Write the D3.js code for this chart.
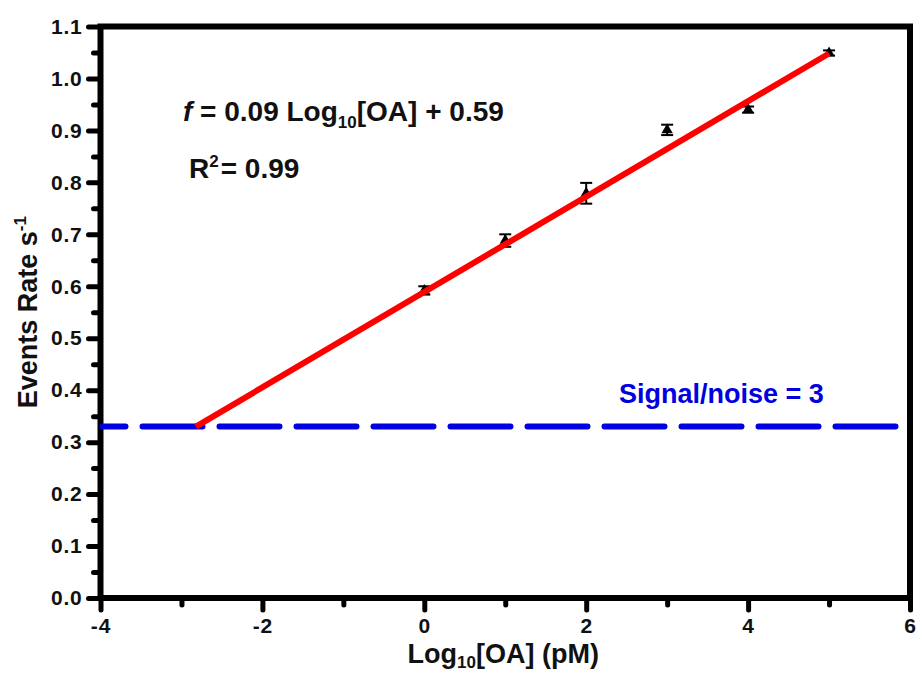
<!DOCTYPE html>
<html>
<head>
<meta charset="utf-8">
<script src="https://cdn.jsdelivr.net/npm/d3@7"></script>
<style>
  html, body { margin: 0; padding: 0; background: #fff; }
  svg { display: block; font-family: "Liberation Sans", Arial, sans-serif; font-weight: bold; }
</style>
</head>
<body>
<svg id="chart" width="916" height="675"></svg>
<script>
// Event rate versus log concentration of OA
const logConc   = [0, 1, 2, 3, 4, 5];
const eventRate = [0.592, 0.688, 0.779, 0.901, 0.940, 1.049];
const rateError = [0.008, 0.012, 0.020, 0.010, 0.006, 0.005];

// Linear fit parameters
const fitSlope     = [0.0918];
const fitIntercept = [0.589];
const rSquared     = [0.99];

// Detection threshold (signal/noise = 3)
const thresholdRate = [0.33];

// Axis ticks
const xTicks      = [-4, -2, 0, 2, 4, 6];
const xMinorTicks = [-3, -1, 1, 3, 5];
const yTicks      = [0, 0.1, 0.2, 0.3, 0.4, 0.5, 0.6, 0.7, 0.8, 0.9, 1.0, 1.1];
const yMinorTicks = [0.05, 0.15, 0.25, 0.35, 0.45, 0.55, 0.65, 0.75, 0.85, 0.95, 1.05];

const svg = d3.select("#chart");
const plotLeft = 100.5, plotRight = 910, plotTop = 26.5, plotBottom = 598;

const x = d3.scaleLinear().domain([-4, 6]).range([plotLeft, plotRight]);
const y = d3.scaleLinear().domain([0, 1.1]).range([plotBottom, plotTop]);

const fit = v => fitSlope[0] * v + fitIntercept[0];
const fitStart = (thresholdRate[0] - fitIntercept[0]) / fitSlope[0];
const fitEnd = d3.max(logConc);

// Axes: major ticks with labels, minor ticks without
function styleAxis(g) {
  g.select(".domain").remove();
  g.selectAll(".tick line").attr("stroke", "#000").attr("stroke-width", 5).attr("stroke-linecap", "round");
  g.selectAll(".tick text").attr("fill", "#111").attr("font-size", 21).attr("font-weight", "bold")
    .attr("font-family", "'Liberation Sans', Arial, sans-serif").attr("letter-spacing", 0.8);
}

svg.append("g").attr("transform", `translate(0,${plotBottom})`)
  .call(d3.axisBottom(x).tickValues(xTicks).tickSize(12).tickPadding(8).tickFormat(d => String(d)))
  .call(styleAxis);
svg.append("g").attr("transform", `translate(0,${plotBottom})`)
  .call(d3.axisBottom(x).tickValues(xMinorTicks).tickSize(7).tickFormat(""))
  .call(styleAxis);
svg.append("g").attr("transform", `translate(${plotLeft},0)`)
  .call(d3.axisLeft(y).tickValues(yTicks).tickSize(12).tickPadding(6).tickFormat(d3.format(".1f")))
  .call(styleAxis);
svg.append("g").attr("transform", `translate(${plotLeft},0)`)
  .call(d3.axisLeft(y).tickValues(yMinorTicks).tickSize(7).tickFormat(""))
  .call(styleAxis);

// Plot frame
svg.append("rect")
  .attr("x", plotLeft).attr("y", plotTop)
  .attr("width", plotRight - plotLeft).attr("height", plotBottom - plotTop)
  .attr("fill", "none").attr("stroke", "#000").attr("stroke-width", 6);

// Threshold line
svg.append("line")
  .attr("x1", x(-4) + 2).attr("x2", x(6) - 2)
  .attr("y1", y(thresholdRate[0])).attr("y2", y(thresholdRate[0]))
  .attr("stroke", "#0000e0").attr("stroke-width", 6)
  .attr("stroke-dasharray", "60,17").attr("stroke-dashoffset", 37)
  .attr("stroke-linecap", "round");

// Error bars
const eb = svg.append("g").attr("stroke", "#000").attr("stroke-width", 2);
logConc.forEach((c, i) => {
  const cx = x(c), hi = y(eventRate[i] + rateError[i]), lo = y(eventRate[i] - rateError[i]);
  eb.append("line").attr("x1", cx).attr("x2", cx).attr("y1", hi).attr("y2", lo);
  eb.append("line").attr("x1", cx - 6).attr("x2", cx + 6).attr("y1", hi).attr("y2", hi);
  eb.append("line").attr("x1", cx - 6).attr("x2", cx + 6).attr("y1", lo).attr("y2", lo);
});

// Data markers (triangles)
svg.append("g").selectAll("path").data(logConc).join("path")
  .attr("transform", (d, i) => `translate(${x(d)},${y(eventRate[i])})`)
  .attr("d", d3.symbol(d3.symbolTriangle, 55))
  .attr("fill", "#000");

// Linear fit
svg.append("line")
  .attr("x1", x(fitStart)).attr("y1", y(fit(fitStart)))
  .attr("x2", x(fitEnd)).attr("y2", y(fit(fitEnd)))
  .attr("stroke", "#ff0000").attr("stroke-width", 6);

// Fit equation
const f2 = d3.format(".2f");
const eq = svg.append("text").attr("x", 183).attr("y", 121).attr("font-size", 28).attr("fill", "#111");
eq.append("tspan").attr("font-style", "italic").text("f");
eq.append("tspan").text(` = ${f2(fitSlope[0])} Log`);
eq.append("tspan").attr("font-size", 17).attr("dy", 7).text("10");
eq.append("tspan").attr("dy", -7).text(`[OA] + ${f2(fitIntercept[0])}`);

const r2 = svg.append("text").attr("x", 189).attr("y", 178).attr("font-size", 28).attr("fill", "#111");
r2.append("tspan").text("R");
r2.append("tspan").attr("font-size", 17).attr("dy", -11).text("2");
r2.append("tspan").attr("dy", 11).attr("dx", 2).text(`= ${f2(rSquared[0])}`);

// Threshold label
svg.append("text").attr("x", 619).attr("y", 403).attr("font-size", 27)
  .attr("fill", "#0000e0").text("Signal/noise = 3");

// Axis titles
const xt = svg.append("text").attr("x", (plotLeft + plotRight) / 2 - 2).attr("y", 663)
  .attr("text-anchor", "middle").attr("font-size", 27).attr("fill", "#111");
xt.append("tspan").text("Log");
xt.append("tspan").attr("font-size", 17).attr("dy", 5).text("10");
xt.append("tspan").attr("dy", -5).text("[OA] (pM)");

const yt = svg.append("text")
  .attr("transform", `translate(37,${(plotTop + plotBottom) / 2}) rotate(-90)`)
  .attr("text-anchor", "middle").attr("font-size", 27).attr("fill", "#111");
yt.append("tspan").text("Events Rate s");
yt.append("tspan").attr("font-size", 17).attr("dy", -11).text("-1");
</script>
</body>
</html>
